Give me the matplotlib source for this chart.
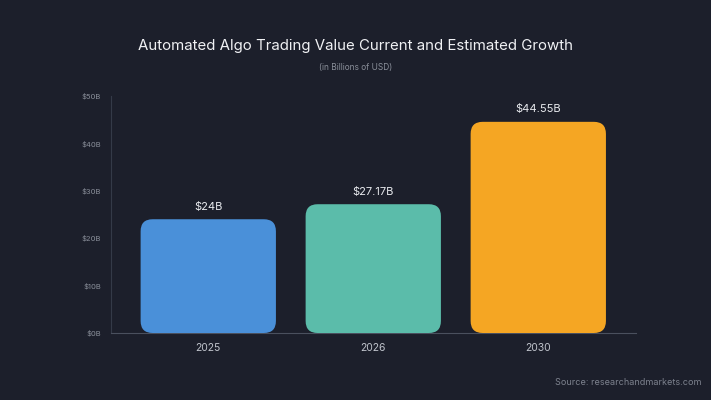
import matplotlib.pyplot as plt
from matplotlib.patches import FancyBboxPatch

years = ["2025", "2026", "2030"]
values = [24, 27.17, 44.55]
labels = ["$24B", "$27.17B", "$44.55B"]
colors = ["#4a90d9", "#5bbcaa", "#f5a623"]
yticks = [0, 10, 20, 30, 40, 50]
ytick_labels = ["$0B", "$10B", "$20B", "$30B", "$40B", "$50B"]

bg = "#1c1f2b"
plt.rcParams["font.family"] = ["Inter", "DejaVu Sans"]

fig = plt.figure(figsize=(7.11, 4.0), dpi=100, facecolor=bg)
ax = fig.add_axes([0.156, 0.1675, 0.738, 0.5925], facecolor=bg)

xmin, xmax = -0.59, 2.59
ymin, ymax = 0, 50
ax.set_xlim(xmin, xmax)
ax.set_ylim(ymin, ymax)

# aspect for round corners (px per data unit)
px_x = 0.738 * 711 / (xmax - xmin)
px_y = 0.5925 * 400 / (ymax - ymin)
width = 0.82
radius_px = 12
rs = radius_px / px_x
for i, v in enumerate(values):
    p = FancyBboxPatch((i - width / 2, 0), width, v,
                       boxstyle=f"round,pad=0,rounding_size={rs}",
                       mutation_aspect=px_x / px_y,
                       facecolor=colors[i], edgecolor="none", zorder=3)
    ax.add_patch(p)
    ax.text(i, v + 1.6, labels[i], ha="center", va="bottom",
            color="#e8eaee", fontsize=8, zorder=4)

ax.set_xticks(range(len(years)))
ax.set_xticklabels(years, color="#c0c4cc", fontsize=7.5)
ax.set_yticks(yticks)
ax.set_yticklabels(ytick_labels, color="#8a8f9a", fontsize=5.5)
ax.tick_params(axis="both", length=0)
ax.tick_params(axis="x", pad=7)
ax.tick_params(axis="y", pad=7)

for s in ["top", "right"]:
    ax.spines[s].set_visible(False)
ax.spines["left"].set_color("#343a48")
ax.spines["left"].set_linewidth(0.8)
ax.spines["bottom"].set_color("#4a505e")
ax.spines["bottom"].set_linewidth(0.8)

fig.text(0.5, 0.885, "Automated Algo Trading Value Current and Estimated Growth",
         ha="center", va="center", color="#f0f1f4", fontsize=10.8)
fig.text(0.5, 0.832, "(in Billions of USD)", ha="center", va="center",
         color="#8a8f9a", fontsize=6)
fig.text(0.987, 0.043, "Source: researchandmarkets.com", ha="right", va="center",
         color="#7d828e", fontsize=6.5)

fig.savefig("out.png", dpi=100, facecolor=bg)
